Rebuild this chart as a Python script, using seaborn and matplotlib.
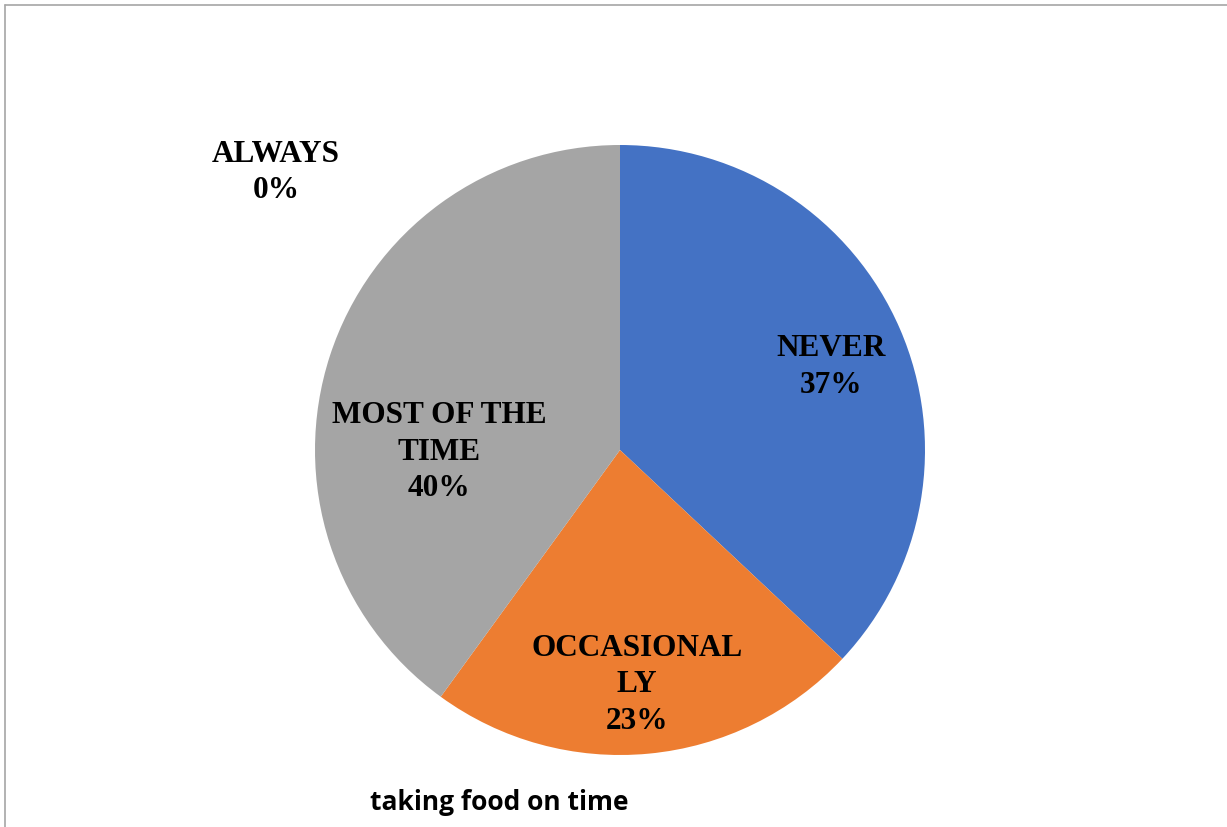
import matplotlib
matplotlib.use("Agg")
import matplotlib.pyplot as plt
import seaborn as sns
from matplotlib.lines import Line2D

categories = ["NEVER", "OCCASIONALLY", "MOST OF THE TIME", "ALWAYS"]
label_texts = ["NEVER\n37%", "OCCASIONAL\nLY\n23%", "MOST OF THE\nTIME\n40%", "ALWAYS\n0%"]
values = [37, 23, 40, 0]
colors = ["#4472C4", "#ED7D31", "#A5A5A5", "#FFC000"]
title = "taking food on time"

sns.set_theme(style="white")
plt.rcParams['font.family'] = ['DejaVu Sans']

W, H, DPI = 1227, 827, 100
fig = plt.figure(figsize=(W / DPI, H / DPI), dpi=DPI)
fig.patch.set_facecolor("white")

cx, cy, R = 620, 450, 305
ax = fig.add_axes([0, 0, 1, 1])
wedges, _ = ax.pie(values, colors=sns.color_palette(colors), startangle=90,
                   counterclock=False, radius=1.0,
                   wedgeprops=dict(linewidth=0))
ax.set_xlim(-cx / R, (W - cx) / R)
ax.set_ylim(-(H - cy) / R, cy / R)
ax.set_aspect("auto")
ax.axis("off")

# label positions in units of pie radius (relative to centre)
label_pos = [(0.692, 0.272), (0.056, -0.770), (-0.593, -0.007), (-1.128, 0.911)]
for txt, (lx, ly) in zip(label_texts, label_pos):
    ax.text(lx, ly, txt, ha="center", va="center", multialignment="center",
            fontsize=22.5, fontweight="bold", family=["Liberation Serif"],
            color="black", linespacing=1.33)

fig.text(499 / W, 1 - 802 / H, title, ha="center", va="center",
         fontsize=19, fontweight="bold", family=["Open Sans"], color="black")

# chart border (top and left visible)
fig.add_artist(Line2D([4.5 / W, 1], [1 - 4.5 / H, 1 - 4.5 / H], color="#A6A6A6", lw=1.2,
                      transform=fig.transFigure))
fig.add_artist(Line2D([4.5 / W, 4.5 / W], [0, 1 - 4.5 / H], color="#A6A6A6", lw=1.2,
                      transform=fig.transFigure))

fig.savefig("out.png", dpi=DPI, facecolor="white")
